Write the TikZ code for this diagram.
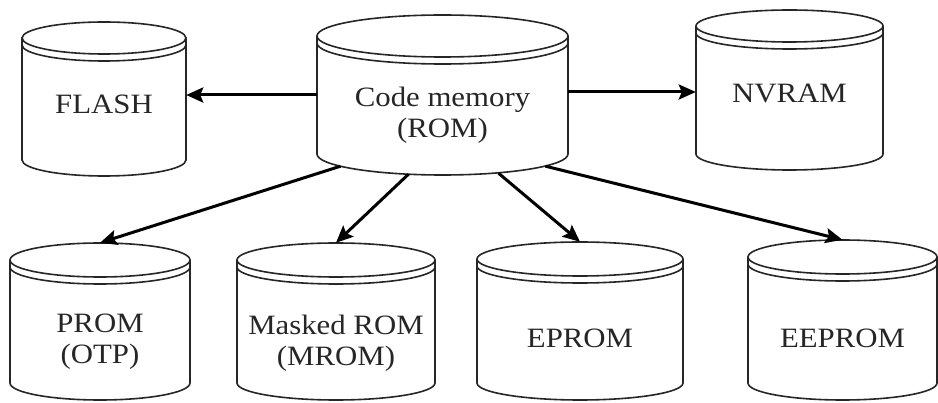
\documentclass[tikz,border=0pt]{standalone}
\usepackage{fontspec}
\setmainfont{Liberation Serif}[FakeStretch=1.1]
\usetikzlibrary{arrows.meta,calc}
\tikzset{
  cylline/.style={line width=1.6pt, draw=black!85},
  cylbox/.style={draw=none, inner sep=0pt},
  cyltext/.style={align=center, inner sep=0pt, font=\fontsize{28}{31}\selectfont, text=black!85},
  link/.style={line width=3pt, draw=black, -{Stealth[length=17pt,width=15pt,inset=3pt]}}
}
% #1 name, #2 left, #3 right, #4 top, #5 bottom, #6 ry, #7 text, #8 text y
\newcommand\memcyl[8]{%
  \pgfmathsetmacro\cx{(#2+#3)/2}%
  \pgfmathsetmacro\rx{(#3-#2)/2}%
  \pgfmathsetmacro\yt{#4+#6}%
  \pgfmathsetmacro\yb{#5-#6}%
  \pgfmathsetmacro\yd{\yt+7}%
  \pgfmathsetmacro\cy{(#4+#5)/2}%
  \draw[cylline] (#2,\yt) -- (#2,\yb) arc[start angle=180,end angle=360,x radius=\rx pt,y radius=#6pt] -- (#3,\yt);
  \draw[cylline] (\cx,\yt) ellipse[x radius=\rx pt, y radius=#6pt];
  \draw[cylline] (#2,\yd) arc[start angle=180,end angle=360,x radius=\rx pt,y radius=#6pt];
  \node[cylbox, minimum width={(#3-#2)*1pt}, minimum height={(#5-#4)*1pt}] (#1) at (\cx,\cy) {};
  \node[cyltext] (#1-t) at (\cx,#8) {#7};
}
\begin{document}
\begin{tikzpicture}[x=1pt,y=-1pt]
  \fill[white] (0,0) rectangle (938,403);
  \useasboundingbox (0,0) rectangle (938,403);
  \memcyl{flash}{22}{186}{22}{176}{16}{FLASH}{104}
  \memcyl{code}{317}{568}{15}{175}{21}{Code memory\\(ROM)}{115}
  \memcyl{nvram}{696}{883}{10}{170}{16}{NVRAM}{93}
  \memcyl{prom}{10}{190}{243}{400}{17}{PROM\\(OTP)}{342}
  \memcyl{mrom}{237}{435}{243}{400}{17}{Masked ROM\\(MROM)}{343}
  \memcyl{eprom}{477}{683}{242}{400}{17}{EPROM}{338}
  \memcyl{eeprom}{748}{937}{240}{400}{17}{EEPROM}{338}
  \draw[link] (code.west) -- (code.west -| flash.east);
  \draw[link] ($(code.east)+(0,-3)$) -- ($(code.east -| nvram.west)+(0,-3)$);
  \draw[link] ($(code.south)+(-102,-9)$) -- (prom.north);
  \draw[link] ($(code.south)+(-34,-1)$) -- (mrom.north);
  \draw[link] ($(code.south)+(56,-2)$) -- (eprom.north);
  \draw[link] ($(code.south)+(103,-9)$) -- (eeprom.north);
\end{tikzpicture}
\end{document}
